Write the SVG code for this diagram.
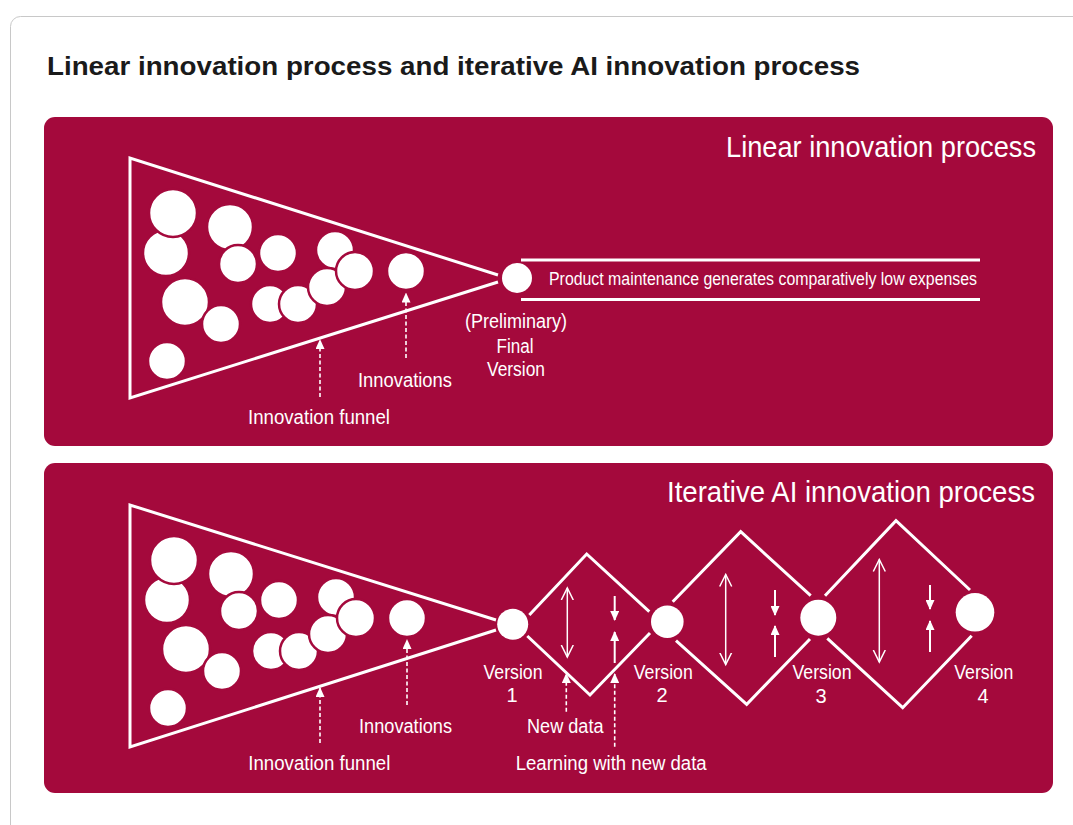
<svg xmlns="http://www.w3.org/2000/svg" width="1073" height="825" viewBox="0 0 1073 825">
  <style>
    .panel { fill: #A4093C; }
    .frame { fill: none; stroke: #ffffff; stroke-width: 3; stroke-linejoin: miter; }
    .blob { fill: #ffffff; stroke: #A4093C; stroke-width: 2.5; }
    .node { fill: #ffffff; }
    .lbl { font-family: "Liberation Sans", Arial, sans-serif; fill: #ffffff; font-size: 20px; }
    .note { font-family: "Liberation Sans", Arial, sans-serif; fill: #ffffff; font-size: 17.5px; }
    .head { font-family: "Liberation Sans", Arial, sans-serif; fill: #ffffff; font-size: 29px; }
    .dash { stroke: #ffffff; stroke-width: 1.6; stroke-dasharray: 4 2.5; fill: none; }
    .thin { stroke: #ffffff; stroke-width: 1.5; fill: none; }
    .small { stroke: #ffffff; stroke-width: 2; fill: none; }
  </style>
  <defs>
    <marker id="tip" markerUnits="userSpaceOnUse" markerWidth="10" markerHeight="9" refX="9" refY="4.5" orient="auto">
      <path d="M0,0 L10,4.5 L0,9 z" fill="#ffffff"/>
    </marker>
    <marker id="open" markerUnits="userSpaceOnUse" markerWidth="14" markerHeight="14" refX="12" refY="7" orient="auto-start-reverse">
      <path d="M0,1 L12,7 L0,13" fill="none" stroke="#ffffff" stroke-width="1.5"/>
    </marker>
    <!-- cluster of ideas inside a funnel -->
    <g id="ideas">
      <circle class="blob" cx="166" cy="253" r="23"/>
      <circle class="blob" cx="173" cy="213" r="24"/>
      <circle class="blob" cx="230" cy="227" r="23"/>
      <circle class="blob" cx="238" cy="264" r="19"/>
      <circle class="blob" cx="278" cy="253" r="19"/>
      <circle class="blob" cx="185" cy="302" r="24"/>
      <circle class="blob" cx="221" cy="324" r="19"/>
      <circle class="blob" cx="167" cy="361" r="19"/>
      <circle class="blob" cx="270" cy="304" r="19"/>
      <circle class="blob" cx="298" cy="304" r="19"/>
      <circle class="blob" cx="335" cy="250" r="19"/>
      <circle class="blob" cx="327" cy="287" r="19"/>
      <circle class="blob" cx="355" cy="271" r="19"/>
      <circle class="blob" cx="406" cy="271" r="19"/>
    </g>
  </defs>

  <!-- card -->
  <rect x="10.5" y="16.5" width="1100" height="900" rx="10" fill="#ffffff" stroke="#c8c8c8" stroke-width="1"/>
  <text x="47" y="75" font-family="'Liberation Sans', Arial, sans-serif" font-weight="bold" font-size="25" fill="#1a1a1a" textLength="813" lengthAdjust="spacingAndGlyphs">Linear innovation process and iterative AI innovation process</text>

  <!-- linear process panel -->
  <g id="linear-panel">
    <rect class="panel" x="44" y="117" width="1009" height="329" rx="11"/>
    <text class="head" x="726" y="157" textLength="310" lengthAdjust="spacingAndGlyphs">Linear innovation process</text>
  </g>

  <g id="linear-funnel">
    <polyline class="frame" points="498,275 130,158 130,398 498,282"/>
    <use href="#ideas"/>
  </g>

  <g id="final-version">
    <circle class="node" cx="517" cy="278" r="15"/>
    <text class="lbl" x="516" y="328" text-anchor="middle" textLength="102" lengthAdjust="spacingAndGlyphs">(Preliminary)</text>
    <text class="lbl" x="515" y="352.5" text-anchor="middle" textLength="37" lengthAdjust="spacingAndGlyphs">Final</text>
    <text class="lbl" x="516" y="376" text-anchor="middle" textLength="58" lengthAdjust="spacingAndGlyphs">Version</text>
  </g>

  <g id="maintenance">
    <line class="frame" x1="521" y1="260" x2="980" y2="260"/>
    <line class="frame" x1="521" y1="299.5" x2="980" y2="299.5"/>
    <text class="note" x="549" y="284.5" textLength="428" lengthAdjust="spacingAndGlyphs">Product maintenance generates comparatively low expenses</text>
  </g>

  <g id="linear-labels">
    <text class="lbl" x="358" y="387" textLength="94" lengthAdjust="spacingAndGlyphs">Innovations</text>
    <text class="lbl" x="248" y="424" textLength="142" lengthAdjust="spacingAndGlyphs">Innovation funnel</text>
  </g>

  <!-- iterative process panel -->
  <g id="iterative-panel">
    <rect class="panel" x="44" y="463" width="1009" height="330" rx="11"/>
    <text class="head" x="667" y="502" textLength="368" lengthAdjust="spacingAndGlyphs">Iterative AI innovation process</text>
  </g>

  <g id="iterative-funnel">
    <polyline class="frame" points="496,620 130,505 130,747 496,630"/>
    <use href="#ideas" transform="translate(1,347)"/>
  </g>

  <g id="version-1">
    <circle class="node" cx="512.7" cy="624.3" r="15.5"/>
    <text class="lbl" x="513" y="678.5" text-anchor="middle" textLength="59" lengthAdjust="spacingAndGlyphs">Version</text>
    <text class="lbl" x="512" y="702" text-anchor="middle">1</text>
  </g>
  <g id="version-2">
    <circle class="node" cx="667.3" cy="621.7" r="16.3"/>
    <text class="lbl" x="663.3" y="678.5" text-anchor="middle" textLength="59" lengthAdjust="spacingAndGlyphs">Version</text>
    <text class="lbl" x="662" y="702" text-anchor="middle">2</text>
  </g>
  <g id="version-3">
    <circle class="node" cx="818.3" cy="617.7" r="18"/>
    <text class="lbl" x="822" y="679" text-anchor="middle" textLength="59" lengthAdjust="spacingAndGlyphs">Version</text>
    <text class="lbl" x="821" y="703" text-anchor="middle">3</text>
  </g>
  <g id="version-4">
    <circle class="node" cx="975" cy="612.3" r="19.3"/>
    <text class="lbl" x="983.8" y="679" text-anchor="middle" textLength="59" lengthAdjust="spacingAndGlyphs">Version</text>
    <text class="lbl" x="983" y="703" text-anchor="middle">4</text>
  </g>

  <g id="iterative-labels">
    <text class="lbl" x="359" y="732.5" textLength="93" lengthAdjust="spacingAndGlyphs">Innovations</text>
    <text class="lbl" x="248.3" y="770" textLength="142" lengthAdjust="spacingAndGlyphs">Innovation funnel</text>
    <text class="lbl" x="527" y="732.5" textLength="76.5" lengthAdjust="spacingAndGlyphs">New data</text>
    <text class="lbl" x="515.7" y="770" textLength="191" lengthAdjust="spacingAndGlyphs">Learning with new data</text>
  </g>

  <!-- connectors -->
  <g id="connectors">
    <!-- iteration loops between versions -->
    <polyline class="frame" points="529.3,615 586.7,554 649.3,611.7"/>
    <polyline class="frame" points="527.3,636 590,695 650,633"/>
    <polyline class="frame" points="672.7,601.7 740.7,531.7 810.7,595.7"/>
    <polyline class="frame" points="676,640.7 746.7,704.3 810,639"/>
    <polyline class="frame" points="825,595.7 896,520.7 970,590"/>
    <polyline class="frame" points="827.3,638.3 902.7,707.7 971.7,635.7"/>

    <!-- span of each iteration -->
    <line class="thin" x1="567.3" y1="588" x2="567.3" y2="657" marker-start="url(#open)" marker-end="url(#open)"/>
    <line class="thin" x1="725.7" y1="574.5" x2="725.7" y2="664.5" marker-start="url(#open)" marker-end="url(#open)"/>
    <line class="thin" x1="879.3" y1="559.5" x2="879.3" y2="662" marker-start="url(#open)" marker-end="url(#open)"/>

    <!-- converging arrows -->
    <line class="small" x1="614.7" y1="596" x2="614.7" y2="620" marker-end="url(#tip)"/>
    <line class="small" x1="614.7" y1="663" x2="614.7" y2="632" marker-end="url(#tip)"/>
    <line class="small" x1="775" y1="590" x2="775" y2="615" marker-end="url(#tip)"/>
    <line class="small" x1="775" y1="657" x2="775" y2="626" marker-end="url(#tip)"/>
    <line class="small" x1="930" y1="585" x2="930" y2="609" marker-end="url(#tip)"/>
    <line class="small" x1="930" y1="652" x2="930" y2="621" marker-end="url(#tip)"/>

    <!-- dashed pointers -->
    <line class="dash" x1="406" y1="358" x2="406" y2="293.5" marker-end="url(#tip)"/>
    <line class="dash" x1="320" y1="397" x2="320" y2="340" marker-end="url(#tip)"/>
    <line class="dash" x1="407" y1="705" x2="407" y2="640" marker-end="url(#tip)"/>
    <line class="dash" x1="320" y1="743" x2="320" y2="688" marker-end="url(#tip)"/>
    <line class="dash" x1="566.3" y1="711.7" x2="566.3" y2="674" marker-end="url(#tip)"/>
    <line class="dash" x1="614.7" y1="746.7" x2="614.7" y2="674" marker-end="url(#tip)"/>
  </g>
</svg>
